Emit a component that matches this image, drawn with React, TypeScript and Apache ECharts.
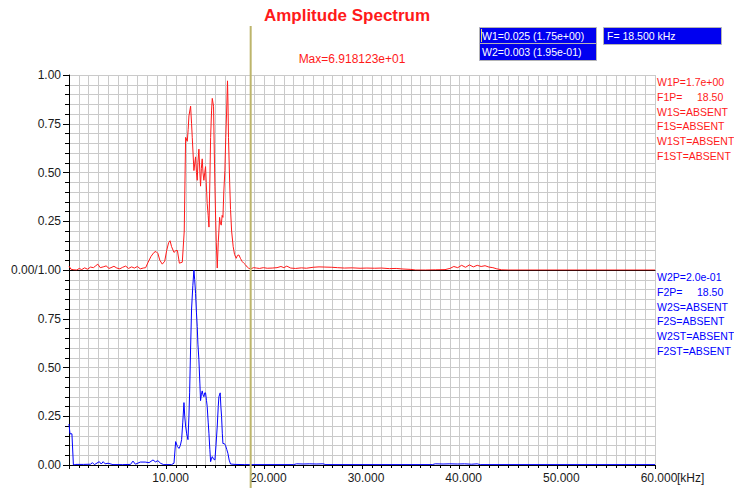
import React, { useEffect, useRef } from "react";
import * as echarts from "echarts";

// ---- data (kHz, normalized amplitude) ----
const redFreq = [
  0, 0.2, 0.5, 0.8, 1.05, 1.3, 1.6, 1.9, 2.2, 2.5, 2.7, 2.95, 3.2, 3.5, 3.8, 4.1, 4.3, 4.6, 4.9, 5.2,
  5.5, 5.8, 6.1, 6.4, 6.7, 7.0, 7.3, 7.6, 7.85, 8.1, 8.4, 8.7, 8.9, 9.1, 9.3, 9.55, 9.8, 10.0, 10.2, 10.35,
  10.5, 10.75, 10.95, 11.1, 11.3, 11.6, 11.8, 11.94, 12.11, 12.2, 12.28, 12.45, 12.55, 12.62, 12.7, 12.79, 12.96, 13.05, 13.13, 13.2,
  13.3, 13.4, 13.47, 13.55, 13.64, 13.72, 13.81, 13.9, 13.98, 14.05, 14.15, 14.25, 14.33, 14.42, 14.5, 14.6, 14.67, 14.8, 14.88, 14.94,
  15.02, 15.08, 15.18, 15.28, 15.35, 15.42, 15.5, 15.59, 15.68, 15.76, 15.85, 15.96, 16.05, 16.13, 16.23, 16.28, 16.33, 16.45, 16.54, 16.65,
  16.81, 16.95, 17.12, 17.25, 17.4, 17.55, 17.74, 17.9, 18.08, 18.25, 18.4, 18.6, 18.9, 19.2, 19.5, 19.9, 20.3, 20.8, 21.3, 21.7,
  22.0, 22.3, 22.7, 23.2, 23.8, 24.3, 25.0, 25.6, 26.2, 26.9, 27.5, 28.2, 29.0, 29.8, 30.5, 31.3, 32.0, 32.8, 33.5, 34.2,
  35.0, 35.5, 36.5, 37.5, 38.5, 39.0, 39.4, 39.8, 40.2, 40.6, 41.0, 41.4, 41.8, 42.2, 42.6, 43.0, 43.4, 43.8, 44.3, 45, 60,
];
const redVal = [
  0.02, 0.004, 0.001, 0.0, 0.008, 0.002, 0.011, 0.004, 0.015, 0.012, 0.02, 0.03, 0.012, 0.016, 0.021, 0.008, 0.012, 0.019, 0.01, 0.006,
  0.014, 0.02, 0.008, 0.016, 0.01, 0.018, 0.006, 0.01, 0.012, 0.04, 0.07, 0.09, 0.095, 0.085, 0.05, 0.03, 0.045, 0.1, 0.14, 0.15,
  0.12, 0.09, 0.1, 0.1, 0.035, 0.04, 0.2, 0.68, 0.66, 0.72, 0.79, 0.84, 0.75, 0.68, 0.6, 0.51, 0.58, 0.5, 0.46, 0.55,
  0.62, 0.5, 0.43, 0.52, 0.57, 0.5, 0.46, 0.5, 0.53, 0.45, 0.34, 0.28, 0.22, 0.45, 0.68, 0.82, 0.88, 0.84, 0.6, 0.43,
  0.25, 0.14, 0.01, 0.14, 0.2, 0.27, 0.24, 0.23, 0.28, 0.27, 0.4, 0.51, 0.68, 0.8, 0.97, 0.85, 0.68, 0.45, 0.31, 0.2,
  0.12, 0.08, 0.06, 0.075, 0.077, 0.06, 0.043, 0.035, 0.026, 0.015, 0.009, 0.006, 0.012, 0.01, 0.008, 0.012, 0.009, 0.01, 0.012, 0.018,
  0.012, 0.02, 0.01, 0.008, 0.011, 0.009, 0.014, 0.016, 0.015, 0.014, 0.012, 0.01, 0.011, 0.009, 0.01, 0.009, 0.01, 0.007, 0.008, 0.005,
  0.003, 0.0, 0.0, 0.001, 0.002, 0.008, 0.018, 0.012, 0.024, 0.014, 0.026, 0.016, 0.024, 0.018, 0.022, 0.015, 0.012, 0.006, 0.001, 0, 0,
];

const blueFreq = [
  0, 0.1, 0.3, 0.45, 0.7, 1.5, 2.2, 2.4, 2.6, 3.1, 3.3, 3.5, 3.7, 4.0, 4.5, 5.5, 6.3, 6.55, 6.8, 7.3,
  7.8, 8.2, 8.6, 8.85, 9.1, 9.4, 9.7, 10.5, 10.75, 10.92, 11.1, 11.26, 11.4, 11.53, 11.65, 11.77, 11.85, 11.94, 12.05, 12.18,
  12.28, 12.35, 12.45, 12.55, 12.68, 12.79, 12.87, 12.96, 13.05, 13.13, 13.2, 13.3, 13.4, 13.47, 13.55, 13.64, 13.72, 13.81, 13.9, 13.98,
  14.08, 14.15, 14.25, 14.33, 14.42, 14.5, 14.6, 14.67, 14.8, 14.94, 15.05, 15.18, 15.28, 15.35, 15.48, 15.55, 15.62, 15.7, 15.76, 15.9,
  16.03, 16.15, 16.27, 16.4, 16.54, 17.0, 18, 23.0, 23.3, 24.0, 24.6, 25.3, 26.0, 26.3, 37.2, 37.5, 38.3, 39.0, 39.8, 40.5,
  41.2, 41.8, 42.1, 60,
];
const blueVal = [
  0.21, 0.16, 0.16, 0.0, 0.003, 0.003, 0.004, 0.012, 0.002, 0.017, 0.005, 0.017, 0.006, 0.009, 0.002, 0.002, 0.003, 0.02, 0.004, 0.015,
  0.015, 0.012, 0.026, 0.016, 0.022, 0.008, 0.002, 0.002, 0.009, 0.12, 0.095, 0.085, 0.1, 0.13, 0.22, 0.32, 0.25, 0.2, 0.16, 0.13,
  0.25, 0.37, 0.6, 0.8, 0.92, 1.0, 0.95, 0.88, 0.78, 0.71, 0.62, 0.54, 0.42, 0.33, 0.36, 0.38, 0.36, 0.35, 0.37, 0.37,
  0.33, 0.3, 0.22, 0.16, 0.08, 0.017, 0.035, 0.043, 0.03, 0.026, 0.1, 0.2, 0.3, 0.35, 0.37, 0.3, 0.25, 0.16, 0.11, 0.11,
  0.1, 0.08, 0.06, 0.025, 0.005, 0.003, 0.002, 0.002, 0.006, 0.005, 0.006, 0.005, 0.006, 0.002, 0.002, 0.006, 0.005, 0.006, 0.005, 0.006,
  0.004, 0.006, 0.002, 0.002,
];

const xTickLabels: Record<number, string> = {
  10: "10.000",
  20: "20.000",
  30: "30.000",
  40: "40.000",
  50: "50.000",
  60: "60.000",
};
const cursorFreq = 18.5;

const titleText = "Amplitude Spectrum";
const maxText = "Max=6.918123e+01";
const boxW1 = "W1=0.025 (1.75e+00)";
const boxW2 = "W2=0.003 (1.95e-01)";
const boxF = "F= 18.500 kHz";
const redLabels = ["W1P=1.7e+00", "F1P=     18.50", "W1S=ABSENT", "F1S=ABSENT", "W1ST=ABSENT", "F1ST=ABSENT"];
const blueLabels = ["W2P=2.0e-01", "F2P=     18.50", "W2S=ABSENT", "F2S=ABSENT", "W2ST=ABSENT", "F2ST=ABSENT"];

const FONT = "Liberation Sans, Arial, sans-serif";
const GRID_COLOR = "#cacaca";
const RED = "#ff1a1a";
const BLUE = "#0000ff";

export default function App() {
  const ref = useRef<HTMLDivElement>(null);

  useEffect(() => {
    if (!ref.current) return;
    const chart = echarts.init(ref.current, undefined, { renderer: "svg" });

    const xAxisBase = (gridIndex: number, showLabels: boolean) => ({
      type: "value",
      gridIndex,
      min: 0,
      max: 60,
      interval: 10,
      axisLine: { show: true, onZero: false, lineStyle: { color: "#000", width: 1 } },
      axisTick: { show: showLabels, length: 4, lineStyle: { color: "#000" } },
      minorTick: { show: showLabels, splitNumber: 10, length: 3, lineStyle: { color: "#000" } },
      splitLine: { show: true, lineStyle: { color: GRID_COLOR, width: 1 } },
      minorSplitLine: { show: true, lineStyle: { color: GRID_COLOR, width: 1 } },
      axisLabel: {
        show: showLabels,
        margin: 7,
        fontSize: 12,
        fontFamily: FONT,
        color: "#1a1a1a",
        padding: [0, 0, 0, 8],
        formatter: (v: number) => xTickLabels[Math.round(v)] || "",
      },
    });

    const yAxisBase = (gridIndex: number, top: boolean) => ({
      type: "value",
      gridIndex,
      min: 0,
      max: 1,
      interval: 0.25,
      axisLine: { show: true, lineStyle: { color: "#000", width: 1 } },
      axisTick: { show: true, length: 6, lineStyle: { color: "#000" } },
      minorTick: { show: true, splitNumber: 5, length: 4, lineStyle: { color: "#000" } },
      splitLine: { show: true, lineStyle: { color: GRID_COLOR, width: 1 } },
      minorSplitLine: { show: true, lineStyle: { color: GRID_COLOR, width: 1 } },
      axisLabel: {
        margin: 8,
        fontSize: 12,
        fontFamily: FONT,
        color: "#1a1a1a",
        formatter: (v: number) => {
          if (top) return v === 0 ? "0.00/1.00" : v.toFixed(2);
          return v === 1 ? "" : v.toFixed(2);
        },
      },
    });

    chart.setOption({
      animation: false,
      backgroundColor: "#ffffff",
      grid: [
        { left: 69, top: 75, width: 586, height: 195 },
        { left: 69, top: 270, width: 586, height: 195 },
      ],
      xAxis: [xAxisBase(0, false), xAxisBase(1, true)],
      yAxis: [yAxisBase(0, true), yAxisBase(1, false)],
      series: [
        {
          type: "line",
          xAxisIndex: 0,
          yAxisIndex: 0,
          data: redFreq.map((f, i) => [f, redVal[i]]),
          showSymbol: false,
          lineStyle: { color: RED, width: 1 },
          itemStyle: { color: RED },
          z: 5,
        },
        {
          type: "line",
          xAxisIndex: 1,
          yAxisIndex: 1,
          data: blueFreq.map((f, i) => [f, blueVal[i]]),
          showSymbol: false,
          lineStyle: { color: BLUE, width: 1 },
          itemStyle: { color: BLUE },
          z: 5,
        },
      ],
    });

    const cx = chart.convertToPixel({ xAxisIndex: 1 }, cursorFreq) as number;
    const endX = chart.convertToPixel({ xAxisIndex: 1 }, 60) as number;

    const textStyle = (text: string, color: string, size: number, extra: any = {}) => ({
      text,
      fill: color,
      font: `${extra.bold ? "bold " : ""}${size}px ${FONT}`,
      textAlign: extra.align || "left",
      textVerticalAlign: "middle",
    });

    const graphics: any[] = [
      {
        type: "line",
        shape: { x1: cx + 1, y1: 26, x2: cx + 1, y2: 488 },
        style: { stroke: "#bdb56c", lineWidth: 2 },
        z: 20,
      },
      { type: "text", x: 347, y: 15, style: textStyle(titleText, RED, 17, { bold: true, align: "center" }) },
      { type: "text", x: 352, y: 59, style: textStyle(maxText, RED, 12, { align: "center" }) },
      {
        type: "rect",
        shape: { x: 479.5, y: 27.5, width: 117, height: 16 },
        style: { fill: "#0000f0", stroke: "#b4b4b4", lineWidth: 1 },
      },
      {
        type: "rect",
        shape: { x: 479.5, y: 43.5, width: 117, height: 17 },
        style: { fill: "#0000f0", stroke: "#b4b4b4", lineWidth: 1 },
      },
      {
        type: "rect",
        shape: { x: 603.5, y: 27.5, width: 118, height: 17 },
        style: { fill: "#0000f0", stroke: "#b4b4b4", lineWidth: 1 },
      },
      {
        type: "line",
        shape: { x1: 481.5, y1: 29, x2: 481.5, y2: 42 },
        style: { stroke: "#e8e060", lineWidth: 1 },
      },
      { type: "text", x: 482, y: 35.5, style: textStyle(boxW1, "#ffffff", 10.5) },
      { type: "text", x: 482, y: 52, style: textStyle(boxW2, "#ffffff", 10.5) },
      { type: "text", x: 607, y: 35.5, style: textStyle(boxF, "#ffffff", 10.5) },
      { type: "text", x: endX + 22, y: 478, style: textStyle("[kHz]", "#1a1a1a", 12) },
    ];
    redLabels.forEach((t, i) => {
      graphics.push({ type: "text", x: 657, y: 82 + i * 14.8, style: textStyle(t, RED, 10.5) });
    });
    blueLabels.forEach((t, i) => {
      graphics.push({ type: "text", x: 657, y: 277 + i * 14.8, style: textStyle(t, BLUE, 10.5) });
    });

    chart.setOption({ graphic: graphics });

    return () => chart.dispose();
  }, []);

  return (
    <div
      ref={ref}
      style={{ position: "fixed", left: 0, top: 0, width: 734, height: 488, background: "#fff" }}
    />
  );
}
